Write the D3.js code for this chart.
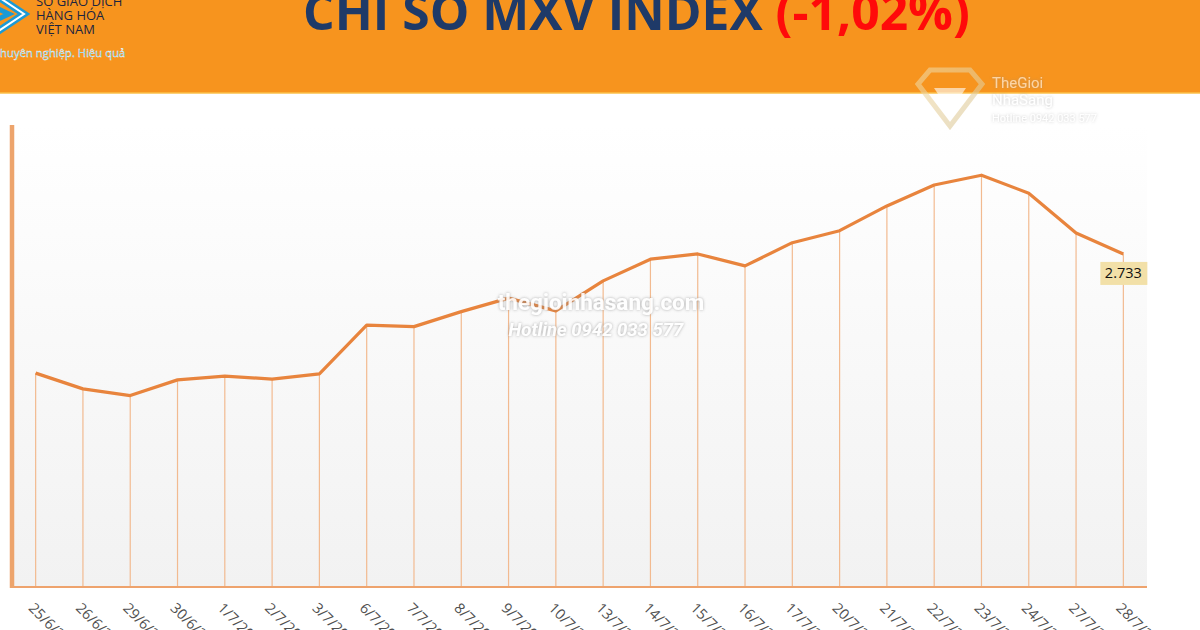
<!DOCTYPE html>
<html lang="vi">
<head>
    <meta charset="UTF-8">
    <title>Chỉ số MXV Index</title>
    <script src="https://d3js.org/d3.v7.min.js"></script>
    <style>
        body { margin: 0; background: #fff; }
        svg { display: block; }
    </style>
</head>
<body>
    <svg width="1200" height="630"></svg>
    <script>
        const width = 1200, height = 630;

        // data
        const dates = ["25/6/2020", "26/6/2020", "29/6/2020", "30/6/2020", "1/7/2020", "2/7/2020",
            "3/7/2020", "6/7/2020", "7/7/2020", "8/7/2020", "9/7/2020", "10/7/2020",
            "13/7/2020", "14/7/2020", "15/7/2020", "16/7/2020", "17/7/2020", "20/7/2020",
            "21/7/2020", "22/7/2020", "23/7/2020", "24/7/2020", "27/7/2020", "28/7/2020"];
        const values = [2574, 2553, 2544, 2565, 2570, 2566,
            2573, 2638, 2636, 2656, 2674, 2657,
            2697, 2726, 2733, 2717, 2748, 2764,
            2797, 2825, 2838, 2814, 2761, 2733];
        const titleMain = "CHỈ SỐ MXV INDEX ";
        const titleChange = "(-1,02%)";
        const logoLines = ["SỞ GIAO DỊCH", "HÀNG HÓA", "VIỆT NAM"];
        const logoSlogan = "Chuyên nghiệp. Hiệu quả";

        const svg = d3.select("svg");
        const defs = svg.append("defs");

        const plot = { left: 12, right: 1147, top: 125, bottom: 586 };

        const x = d3.scaleBand()
            .domain(dates)
            .range([plot.left, plot.right])
            .padding(0);

        const y = d3.scaleLinear()
            .domain([2290, 2905])
            .range([plot.bottom, plot.top]);

        // plot background
        const grad = defs.append("linearGradient")
            .attr("id", "bg").attr("x1", 0).attr("y1", 0).attr("x2", 0).attr("y2", 1);
        grad.append("stop").attr("offset", "0%").attr("stop-color", "#ffffff");
        grad.append("stop").attr("offset", "100%").attr("stop-color", "#f2f2f2");

        const shadow = defs.append("filter").attr("id", "shadow")
            .attr("x", "-10%").attr("y", "-30%").attr("width", "120%").attr("height", "160%");
        shadow.append("feDropShadow")
            .attr("dx", 0).attr("dy", 0).attr("stdDeviation", 1.6)
            .attr("flood-color", "#8a8a8a").attr("flood-opacity", 0.8);

        const gold = defs.append("linearGradient")
            .attr("id", "gold").attr("x1", 0).attr("y1", 0).attr("x2", 1).attr("y2", 1);
        gold.append("stop").attr("offset", "0%").attr("stop-color", "#f3d9a0");
        gold.append("stop").attr("offset", "100%").attr("stop-color", "#d9c79a");

        svg.append("rect")
            .attr("x", plot.left).attr("y", plot.top)
            .attr("width", plot.right - plot.left)
            .attr("height", plot.bottom - plot.top)
            .attr("fill", "url(#bg)");

        const cx = d => x(d) + x.bandwidth() / 2;

        // drop lines
        svg.append("g")
            .selectAll("line")
            .data(dates)
            .join("line")
            .attr("x1", cx).attr("x2", cx)
            .attr("y1", (d, i) => y(values[i]))
            .attr("y2", plot.bottom)
            .attr("stroke", "#f2ba90")
            .attr("stroke-width", 1.2);

        // axes
        svg.append("line")
            .attr("x1", plot.left - 1).attr("x2", plot.right)
            .attr("y1", plot.bottom + 1).attr("y2", plot.bottom + 1)
            .attr("stroke", "#eea36d").attr("stroke-width", 2);
        svg.append("line")
            .attr("x1", plot.left).attr("x2", plot.left)
            .attr("y1", plot.top).attr("y2", plot.bottom + 2)
            .attr("stroke", "#eda46c").attr("stroke-width", 4.5);

        // x tick labels, rotated
        svg.append("g")
            .selectAll("text")
            .data(dates)
            .join("text")
            .attr("transform", d => `translate(${cx(d) - 8},${609}) rotate(45)`)
            .attr("font-family", "Open Sans, sans-serif")
            .attr("font-size", 14.5)
            .attr("fill", "#505050")
            .text(d => d);

        // line
        const line = d3.line()
            .x((d, i) => cx(dates[i]))
            .y(d => y(d));

        svg.append("path")
            .datum(values)
            .attr("d", line)
            .attr("fill", "none")
            .attr("stroke", "#e8843d")
            .attr("stroke-width", 3.2)
            .attr("stroke-linejoin", "round");

        // last value label
        const lastI = values.length - 1;
        const lx = cx(dates[lastI]), ly = y(values[lastI]) + 19;
        const fmt = v => (v / 1000).toFixed(3);
        svg.append("rect")
            .attr("x", lx - 23).attr("y", ly - 11)
            .attr("width", 47).attr("height", 23)
            .attr("fill", "#f2e0a8");
        svg.append("text")
            .attr("x", lx).attr("y", ly + 5.5)
            .attr("text-anchor", "middle")
            .attr("font-family", "Open Sans, sans-serif")
            .attr("font-size", 14.5)
            .attr("fill", "#111")
            .text(fmt(values[lastI]));

        // watermark in the middle
        const wm = svg.append("g")
            .attr("font-family", "Roboto, sans-serif")
            .attr("font-weight", "bold")
            .attr("text-anchor", "middle")
            .attr("fill", "#ffffff")
            .attr("filter", "url(#shadow)")
            .attr("opacity", 0.9);
        wm.append("text").attr("x", 601).attr("y", 310).attr("font-size", 22.5).text("thegioinhasang.com");
        wm.append("text").attr("x", 596).attr("y", 336).attr("font-size", 18.5).attr("font-style", "italic").text("Hotline 0942 033 577");

        // header band
        svg.append("rect")
            .attr("x", 0).attr("y", 0)
            .attr("width", width).attr("height", 93)
            .attr("fill", "#f7941e");
        svg.append("line")
            .attr("x1", 0).attr("x2", width)
            .attr("y1", 93).attr("y2", 93)
            .attr("stroke", "#fbc04a").attr("stroke-width", 1.5);

        const title = svg.append("text")
            .attr("x", 303).attr("y", 30)
            .attr("font-family", "Open Sans, sans-serif")
            .attr("font-weight", "bold")
            .attr("font-size", 52);
        title.append("tspan").attr("fill", "#1f3a68").text(titleMain);
        title.append("tspan").attr("fill", "#ff0a0a").text(titleChange);
        const tw = title.node().getComputedTextLength();
        title.attr("font-size", 52 * 667 / tw);

        // logo top-left
        const logo = svg.append("g");
        logo.append("path")
            .attr("d", "M-6,-6 L24,14 L-6,34")
            .attr("fill", "none").attr("stroke", "#1b9ad6").attr("stroke-width", 7);
        logo.append("path")
            .attr("d", "M-6,-6 L24,14 L-6,34")
            .attr("fill", "none").attr("stroke", "#ffffff").attr("stroke-width", 2);
        logo.append("path")
            .attr("d", "M-12,4 L9,14 L-12,24")
            .attr("fill", "none").attr("stroke", "#1b9ad6").attr("stroke-width", 5);
        logo.append("g")
            .attr("font-family", "Open Sans, sans-serif")
            .attr("font-size", 13)
            .attr("fill", "#1c2540")
            .selectAll("text")
            .data(logoLines)
            .join("text")
            .attr("x", 36)
            .attr("y", (d, i) => 6 + i * 14)
            .text(d => d);
        logo.append("text")
            .attr("x", -7).attr("y", 57)
            .attr("font-family", "Open Sans, sans-serif")
            .attr("font-size", 11.3)
            .attr("fill", "#2fb0de")
            .attr("stroke", "#ffffff").attr("stroke-width", 0.35)
            .text(logoSlogan);

        // watermark top-right
        const wm2 = svg.append("g").attr("opacity", 0.6);
        wm2.append("path")
            .attr("d", "M930,70 L970,70 L982,84 L950,126 L918,84 Z")
            .attr("fill", "none").attr("stroke", "url(#gold)").attr("stroke-width", 5);
        wm2.append("path")
            .attr("d", "M934,88 L966,88 L950,112 Z")
            .attr("fill", "#ffffff");
        wm2.append("g")
            .attr("font-family", "Roboto, sans-serif")
            .attr("fill", "#ffffff")
            .attr("filter", "url(#shadow)")
            .selectAll("text")
            .data([["TheGioi", 88, 15], ["NhaSang", 105, 15], ["Hotline 0942 033 577", 122, 11]])
            .join("text")
            .attr("x", 992).attr("y", d => d[1])
            .attr("font-size", d => d[2])
            .text(d => d[0]);
    </script>
</body>
</html>
